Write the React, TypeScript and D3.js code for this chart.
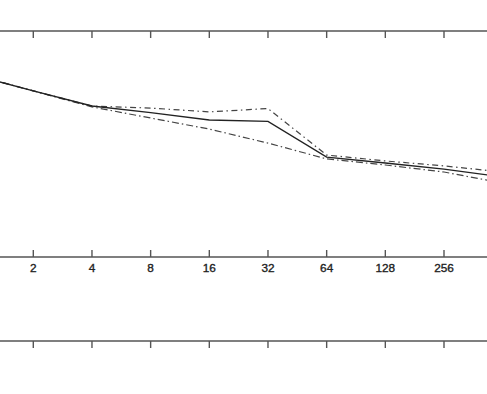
import React from "react";
import * as d3 from "d3";

const xTicks = [2, 4, 8, 16, 32, 64, 128, 256];
const xs = [1, 2, 4, 8, 16, 32, 64, 128, 256, 512];
const solidSeries = [0.805, 0.735, 0.668, 0.639, 0.606, 0.6, 0.442, 0.416, 0.389, 0.354];
const upperSeries = [0.805, 0.735, 0.668, 0.659, 0.642, 0.657, 0.451, 0.425, 0.403, 0.376];
const lowerSeries = [0.805, 0.735, 0.664, 0.615, 0.566, 0.504, 0.434, 0.407, 0.376, 0.327];

const W = 487;
const H = 394;

export default function App() {
  const x = d3.scaleLog().base(2).domain([2, 256]).range([33.3, 444]);
  const y = d3.scaleLinear().domain([0, 1]).range([257, 31]);
  const line = d3
    .line<number>()
    .x((_, i) => x(xs[i]))
    .y((d) => y(d));

  const axisColor = "#555";
  const topY = y(1);
  const botY = y(0);
  const panel2Y = 341;

  const series = [
    { data: lowerSeries, dash: "7,3,1.5,3", color: "#444", w: 1.2 },
    { data: upperSeries, dash: "6,3.5,1.5,3.5", color: "#444", w: 1.2 },
    { data: solidSeries, dash: undefined, color: "#222", w: 1.4 },
  ];

  return (
    <svg
      width={W}
      height={H}
      style={{ position: "absolute", left: 0, top: 0, background: "#fff" }}
    >
      <rect x={0} y={0} width={W} height={H} fill="#fff" />
      <line x1={0} x2={W} y1={topY} y2={topY} stroke={axisColor} strokeWidth={1.5} />
      {xTicks.map((t) => (
        <line key={"tt" + t} x1={x(t)} x2={x(t)} y1={topY} y2={topY + 7} stroke={axisColor} strokeWidth={1.4} />
      ))}
      <line x1={0} x2={W} y1={botY} y2={botY} stroke={axisColor} strokeWidth={1.5} />
      {xTicks.map((t) => (
        <g key={"bt" + t}>
          <line x1={x(t)} x2={x(t)} y1={botY} y2={botY - 7} stroke={axisColor} strokeWidth={1.4} />
          <text
            x={x(t)}
            y={botY + 15}
            textAnchor="middle"
            fontFamily="Liberation Sans, Arial, sans-serif"
            fontSize={11.8}
            fill="#222"
            stroke="#222"
            strokeWidth={0.35}
          >
            {t}
          </text>
        </g>
      ))}
      <line x1={0} x2={W} y1={panel2Y} y2={panel2Y} stroke={axisColor} strokeWidth={1.5} />
      {xTicks.map((t) => (
        <line key={"p2" + t} x1={x(t)} x2={x(t)} y1={panel2Y} y2={panel2Y + 7} stroke={axisColor} strokeWidth={1.4} />
      ))}
      {series.map((s, i) => (
        <path
          key={i}
          d={line(s.data) || ""}
          fill="none"
          stroke={s.color}
          strokeWidth={s.w}
          strokeDasharray={s.dash}
        />
      ))}
    </svg>
  );
}
